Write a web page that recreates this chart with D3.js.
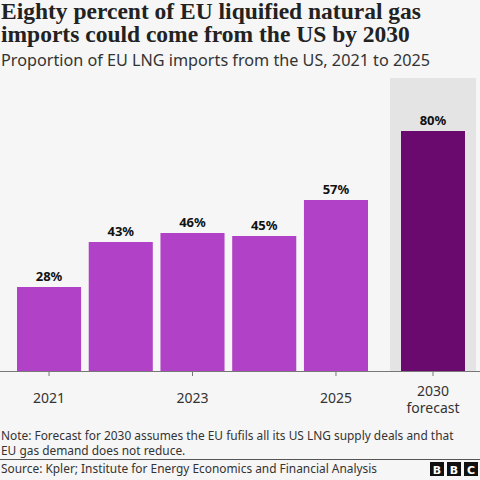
<!DOCTYPE html>
<html>
<head>
<meta charset="utf-8">
<script src="https://cdn.jsdelivr.net/npm/d3@7"></script>
<style>
  body { margin: 0; background: #f6f6f6; }
  svg { display: block; }
</style>
</head>
<body>
<div id="chart"></div>
<script>
// data
const years = ['2021', '2022', '2023', '2024', '2025'];
const shares = [28, 43, 46, 45, 57];
const tickYears = ['2021', '2023', '2025'];
const forecastLabel = ['2030', 'forecast'];
const forecastShare = [80];

const W = 480, H = 480;
const baseY = 371;

const svg = d3.select('#chart')
  .append('svg')
  .attr('width', W)
  .attr('height', H);

svg.append('rect')
  .attr('width', W).attr('height', H)
  .attr('fill', '#f6f6f6');

// title + subtitle
const title = svg.append('text')
  .attr('x', 1)
  .style('font-family', '"Liberation Serif", serif')
  .style('font-weight', 'bold')
  .style('font-size', '23.5px')
  .attr('fill', '#222');
title.append('tspan').attr('x', 1).attr('y', 19).text('Eighty percent of EU liquified natural gas');
title.append('tspan').attr('x', 1).attr('y', 42).text('imports could come from the US by 2030');

svg.append('text')
  .attr('x', 1).attr('y', 66)
  .style('font-family', '"Noto Sans", sans-serif')
  .style('font-size', '16.2px')
  .attr('fill', '#333')
  .text('Proportion of EU LNG imports from the US, 2021 to 2025');

// scales
let y = d3.scaleLinear().domain([0, 100]).range([baseY, baseY - 300]);
let x = d3.scaleBand()
  .domain(years)
  .range([13.2, 371.8])
  .paddingInner(0.107)
  .paddingOuter(0.053);
let xf = d3.scaleBand()
  .domain([forecastLabel.join(' ')])
  .range([401, 465]);

// forecast backdrop
svg.append('rect')
  .attr('x', 390).attr('y', 78)
  .attr('width', 86).attr('height', baseY - 78)
  .attr('fill', '#e4e4e4');

// bars
svg.selectAll('.bar')
  .data(years)
  .enter().append('rect')
  .attr('class', 'bar')
  .attr('x', (d) => x(d))
  .attr('y', (d, i) => y(shares[i]))
  .attr('width', x.bandwidth())
  .attr('height', (d, i) => baseY - y(shares[i]))
  .attr('fill', '#b141c6');

svg.selectAll('.lbl')
  .data(years)
  .enter().append('text')
  .attr('class', 'lbl')
  .attr('x', (d) => x(d) + x.bandwidth() / 2)
  .attr('y', (d, i) => y(shares[i]) - 6)
  .attr('text-anchor', 'middle')
  .style('font-family', '"Noto Sans", sans-serif')
  .style('font-weight', 'bold')
  .style('font-size', '13px')
  .attr('fill', '#111')
  .text((d, i) => shares[i] + '%');

svg.append('rect')
  .attr('x', xf.domain().map(xf)[0])
  .attr('y', y(forecastShare[0]))
  .attr('width', xf.bandwidth())
  .attr('height', baseY - y(forecastShare[0]))
  .attr('fill', '#6a0a6e');

svg.append('text')
  .attr('x', xf.domain().map(xf)[0] + xf.bandwidth() / 2)
  .attr('y', y(forecastShare[0]) - 6)
  .attr('text-anchor', 'middle')
  .style('font-family', '"Noto Sans", sans-serif')
  .style('font-weight', 'bold')
  .style('font-size', '13px')
  .attr('fill', '#111')
  .text(forecastShare[0] + '%');

// x axis
svg.append('line')
  .attr('x1', 0).attr('x2', W)
  .attr('y1', baseY + 0.5).attr('y2', baseY + 0.5)
  .attr('stroke', '#777');

let axisG = svg.append('g')
  .attr('transform', `translate(0, ${baseY})`)
  .call(d3.axisBottom(x).tickValues(tickYears).tickSize(5).tickPadding(17));
axisG.select('.domain').remove();
axisG.selectAll('line').attr('stroke', '#777');
axisG.selectAll('text')
  .style('font-family', '"Noto Sans", sans-serif')
  .style('font-size', '14px')
  .attr('fill', '#333');

let axisF = svg.append('g')
  .attr('transform', `translate(0, ${baseY})`)
  .call(d3.axisBottom(xf).tickSize(5).tickFormat(''));
axisF.select('.domain').remove();
axisF.selectAll('line').attr('stroke', '#777');
const ft = svg.append('text')
  .attr('text-anchor', 'middle')
  .style('font-family', '"Noto Sans", sans-serif')
  .style('font-size', '14px')
  .attr('fill', '#333');
forecastLabel.forEach((t, i) => {
  ft.append('tspan')
    .attr('x', xf.domain().map(xf)[0] + xf.bandwidth() / 2)
    .attr('y', 396 + i * 16.5)
    .text(t);
});

// footer
const note = svg.append('text')
  .style('font-family', '"Noto Sans", sans-serif')
  .style('font-size', '11.9px')
  .attr('fill', '#333');
note.append('tspan').attr('x', 1).attr('y', 440)
  .text('Note: Forecast for 2030 assumes the EU fufils all its US LNG supply deals and that');
note.append('tspan').attr('x', 1).attr('y', 455)
  .text('EU gas demand does not reduce.');

svg.append('line')
  .attr('x1', 0).attr('x2', W)
  .attr('y1', 459.5).attr('y2', 459.5)
  .attr('stroke', '#555');

svg.append('text')
  .attr('x', 1).attr('y', 473)
  .style('font-family', '"Noto Sans", sans-serif')
  .style('font-size', '11.9px')
  .attr('fill', '#333')
  .text('Source: Kpler; Institute for Energy Economics and Financial Analysis');

// BBC blocks
['B', 'B', 'C'].forEach((ch, i) => {
  let bx = 430 + i * 17;
  svg.append('rect')
    .attr('x', bx).attr('y', 462)
    .attr('width', 14).attr('height', 14)
    .attr('fill', '#111');
  svg.append('text')
    .attr('x', bx + 7).attr('y', 473.5)
    .attr('text-anchor', 'middle')
    .style('font-family', '"DejaVu Sans", sans-serif')
    .style('font-weight', 'bold')
    .style('font-size', '11px')
    .attr('fill', '#fff')
    .text(ch);
});
</script>
</body>
</html>
